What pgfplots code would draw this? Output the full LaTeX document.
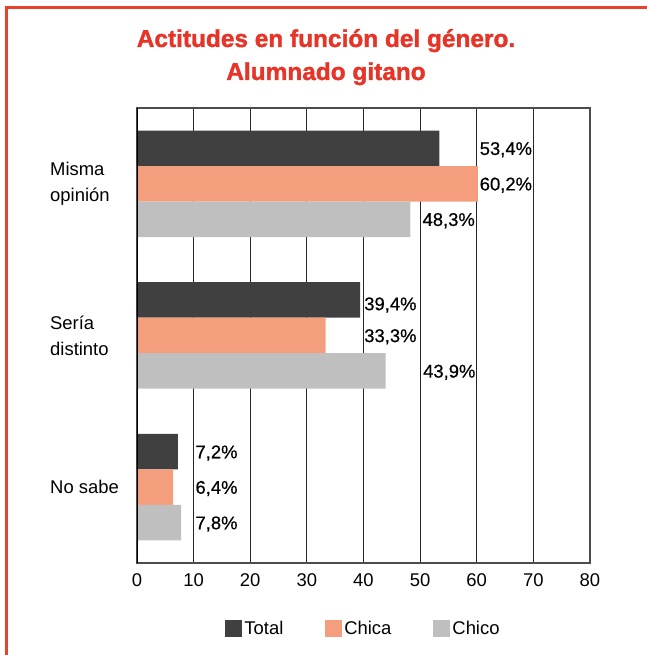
\documentclass[border=0pt]{standalone}
\usepackage{fontspec}
\setmainfont{Liberation Sans}
\newfontfamily\lblfont[FakeBold=0.5]{Liberation Sans}
\newfontfamily\titfont[FakeBold=1.5]{Liberation Sans Bold}
\usepackage{pgfplots}
\pgfplotsset{compat=1.18}
\definecolor{tred}{RGB}{230,52,40}
\definecolor{frame}{RGB}{232,66,46}
\definecolor{ctotal}{RGB}{64,64,64}
\definecolor{cchica}{RGB}{245,158,126}
\definecolor{cchico}{RGB}{191,191,191}
\newcommand{\lf}{\fontsize{18.5}{26}\selectfont}
\begin{document}
\begin{tikzpicture}
\useasboundingbox (-137bp,-92bp) rectangle (510bp,563bp);
\begin{axis}[
  scale only axis,
  width=453bp, height=455bp,
  xmin=0, xmax=80, ymin=-0.5, ymax=2.5,
  xtick={0,10,...,80},
  xmajorgrids,
  grid style={draw=black!85, line width=1.1bp},
  axis line style={draw=black!70, line width=1.2bp},
  xtick style={draw=none},
  ytick={0,1,2},
  yticklabels={No sabe,{Sería\\distinto},{Misma\\opinión}},
  ytick style={draw=none},
  extra y ticks={0.5,1.5,2.5},
  extra y tick labels={},
  extra y tick style={tick align=inside, major tick length=11bp, tick style={draw=black!85, line width=1.2bp}, grid=none},
  /pgf/number format/assume math mode=true,
  xticklabel style={font=\lf, yshift=-7bp},
  yticklabel style={font=\lf, align=left, anchor=west, inner sep=0pt, xshift=-87bp},
  legend columns=3,
  legend style={at={(axis description cs:0.5,-0.143)}, anchor=center, draw=none, font=\lf,
    /tikz/every even column/.append style={column sep=40bp}},
  legend image code/.code={\path[#1] (0bp,-8.5bp) rectangle (17bp,8.5bp);},
  bar width=35.5bp,
]
\addplot[xbar, bar shift=35.5bp, fill=ctotal, draw=none] coordinates {(7.2,0) (39.4,1) (53.4,2)};
\addplot[xbar, bar shift=0bp, fill=cchica, draw=none] coordinates {(6.4,0) (33.3,1) (60.2,2)};
\addplot[xbar, bar shift=-35.5bp, fill=cchico, draw=none] coordinates {(7.8,0) (43.9,1) (48.3,2)};
\legend{Total,Chica,Chico}
\draw[black, line width=2.2bp] (rel axis cs:0,0) -- (rel axis cs:0,1);
\begin{scope}[every node/.style={font=\lf\lblfont, anchor=base west, inner sep=0pt, yshift=-6.6bp}]
\node at (axis cs:60.5,2.234) {53,4\%};
\node at (axis cs:60.5,2) {60,2\%};
\node at (axis cs:50.4,1.766) {48,3\%};
\node at (axis cs:40.1,1.21) {39,4\%};
\node at (axis cs:40.1,1) {33,3\%};
\node at (axis cs:50.5,0.766) {43,9\%};
\node at (axis cs:10.3,0.234) {7,2\%};
\node at (axis cs:10.3,0) {6,4\%};
\node at (axis cs:10.3,-0.234) {7,8\%};
\end{scope}
\end{axis}
\draw[frame, line width=3bp] (-131bp,555bp) -- (510bp,555bp);
\draw[frame, line width=3bp] (-130bp,556.5bp) -- (-130bp,-92bp);
\node[anchor=base, text=tred, font=\fontsize{24.5}{30}\selectfont\titfont, inner sep=0pt] at (189bp,516bp) {Actitudes en función del género.};
\node[anchor=base, text=tred, font=\fontsize{24.5}{30}\selectfont\titfont, inner sep=0pt] at (189bp,483bp) {Alumnado gitano};
\end{tikzpicture}
\end{document}
